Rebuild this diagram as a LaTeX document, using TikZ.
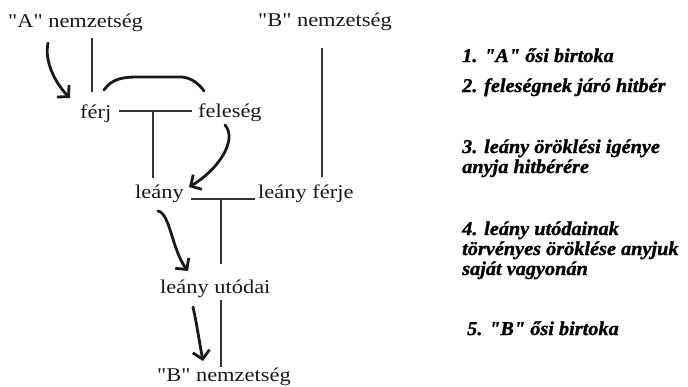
\documentclass[tikz,border=0pt]{standalone}
\usepackage{fontspec}
\usetikzlibrary{arrows.meta,calc}
\newfontfamily\mainf[FakeStretch=1.15]{Liberation Serif}
\newfontfamily\legf[FakeStretch=1.04, BoldItalicFeatures={FakeBold=1.2}]{Liberation Serif}
\begin{document}
\begin{tikzpicture}[x=1pt,y=-1pt]
\tikzset{
  lbl/.style={inner sep=0pt, anchor=base west, font=\mainf\fontsize{19.5}{23}\selectfont, text=black!90},
  leg/.style={inner sep=0pt, anchor=base west, align=left, font=\legf\bfseries\itshape\fontsize{19.5}{20}\selectfont, text=black},
  tree/.style={line width=1.1pt, black!80},
  bendline/.style={line width=2.8pt, line cap=round, line join=round, black!90},
  barb/.style={bendline, -{Straight Barb[length=8pt,width=17pt]}},
}
\fill[white] (0,0) rectangle (688,386);
\useasboundingbox (0,0) rectangle (688,386);

% names
\node[lbl] (anem) at (8,27) {"A" nemzetség};
\node[lbl] (bnem) at (258,26) {"B" nemzetség};
\node[lbl] (ferj) at (80,118) {férj};
\node[lbl] (feleseg) at (198,117) {feleség};
\node[lbl] (leany) at (135,198) {leány};
\node[lbl] (ferje) at (258,198) {leány férje};
\node[lbl] (utodai) at (160,293) {leány utódai};
\node[lbl] (bnem2) at (157,381) {"B" nemzetség};

% tree lines
\coordinate (vA) at (92,0);
\coordinate (vB) at (322,0);
\coordinate (jFF) at (153,111);
\coordinate (jLL) at (221,199);
\draw[tree, shorten <=7pt, shorten >=12pt] (anem.south -| vA) -- (ferj.north -| vA);
\draw[tree, shorten <=7pt, shorten >=6pt] (ferj.east |- jFF) -- (feleseg.west |- jFF);
\draw[tree, shorten >=6pt] (jFF) -- (leany.north -| jFF);
\draw[tree, shorten <=18pt, shorten >=7pt] (bnem.south -| vB) -- (ferje.north -| vB);
\draw[tree, shorten <=7pt, shorten >=3pt] (leany.east |- jLL) -- (ferje.west |- jLL);
\draw[tree, shorten >=15pt] (jLL) -- (utodai.north -| jLL);
\draw[tree, shorten <=3pt] (utodai.south -| jLL) -- (bnem2.north -| jLL);

% flow curves
\coordinate (c1a) at (48,43);   \coordinate (c1b) at (70,98);
\coordinate (c2a) at (104,90);  \coordinate (c2b) at (204,91);
\coordinate (c3a) at (225,125); \coordinate (c3b) at (189,187);
\coordinate (c4a) at (158,211); \coordinate (c4b) at (188,271);
\coordinate (c5a) at (193,307); \coordinate (c5b) at (203,361);
\draw[barb] (c1a) .. controls (44,62) and (56,84) .. (c1b);
\draw[bendline] (c2a) .. controls (112,78) and (125,77) .. (138,77) -- (182,77) .. controls (192,78) and (199,84) .. (c2b);
\draw[barb] (c3a) .. controls (238,140) and (218,170) .. (c3b);
\draw[barb] (c4a) .. controls (170,213) and (172,250) .. (c4b);
\draw[barb] (c5a) .. controls (197,325) and (199,340) .. (c5b);

% legend
\node[leg] (l1) at (462,62) {1. "A" ősi birtoka};
\node[leg] (l2) at (462,92) {2. feleségnek járó hitbér};
\node[leg] (l3) at (462,173) {3. leány öröklési igénye\\anyja hitbérére};
\node[leg] (l4) at (462,275) {4. leány utódainak\\törvényes öröklése anyjuk\\saját vagyonán};
\node[leg] (l5) at (467,335) {5. "B" ősi birtoka};
\end{tikzpicture}
\end{document}
